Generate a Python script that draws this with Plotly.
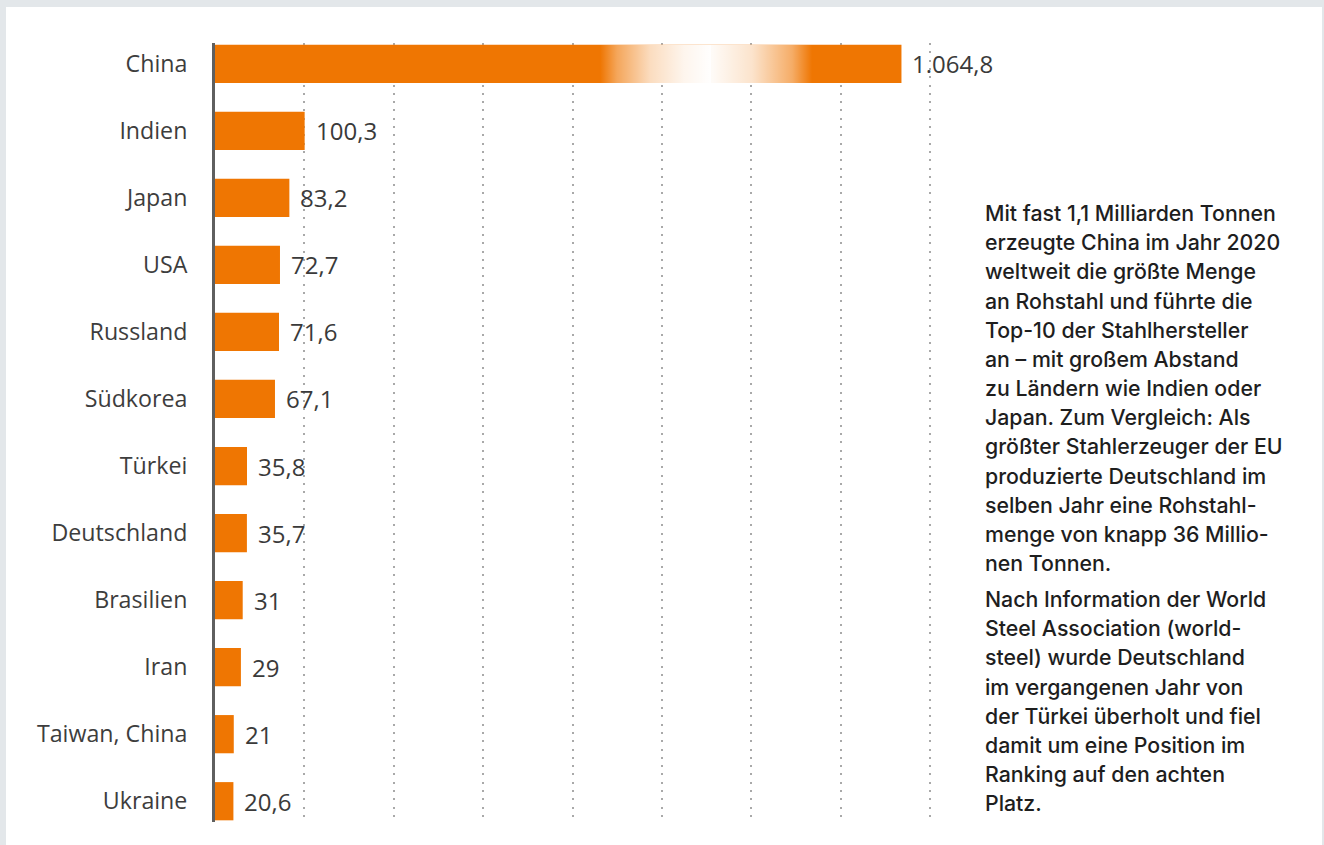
import plotly.graph_objects as go

# Rohstahlproduktion 2020 in Mio. Tonnen
countries = ['China', 'Indien', 'Japan', 'USA', 'Russland', 'Südkorea', 'Türkei',
             'Deutschland', 'Brasilien', 'Iran', 'Taiwan, China', 'Ukraine']
production = [1064.8, 100.3, 83.2, 72.7, 71.6, 67.1, 35.8, 35.7, 31, 29, 21, 20.6]

text_para1 = [
    'Mit fast 1,1 Milliarden Tonnen',
    'erzeugte China im Jahr 2020',
    'weltweit die größte Menge',
    'an Rohstahl und führte die',
    'Top-10 der Stahlhersteller',
    'an – mit großem Abstand',
    'zu Ländern wie Indien oder',
    'Japan. Zum Vergleich: Als',
    'größter Stahlerzeuger der EU',
    'produzierte Deutschland im',
    'selben Jahr eine Rohstahl-',
    'menge von knapp 36 Millio-',
    'nen Tonnen.',
]
text_para2 = [
    'Nach Information der World',
    'Steel Association (world-',
    'steel) wurde Deutschland',
    'im vergangenen Jahr von',
    'der Türkei überholt und fiel',
    'damit um eine Position im',
    'Ranking auf den achten',
    'Platz.',
]

ORANGE = '#ef7602'
W, H = 1324, 845
M_L, M_R, M_T, M_B = 215, 385, 43, 23
X_MAX = 810
BREAK_AT = 768          # drawn length of the broken China bar (axis units)
BAR_W = 0.57

plot_w = W - M_L - M_R
plot_h = H - M_T - M_B


def px_x(px):
    return (px - M_L) / plot_w


def px_y(py):
    return 1 - (py - M_T) / plot_h


def fmt_de(v):
    if float(v).is_integer():
        s = f'{int(v):,}'
    else:
        s = f'{v:,.1f}'
    return s.replace(',', '#').replace('.', ',').replace('#', '.')


idx = list(range(len(countries)))
shown = [min(v, BREAK_AT) for v in production]

fig = go.Figure()

fig.add_trace(go.Bar(
    x=shown, y=idx, orientation='h', width=BAR_W,
    marker=dict(color=ORANGE, line=dict(width=0)),
    hoverinfo='skip', showlegend=False,
))

# axis break on the China bar: fade to white and back
lo, mid, hi = 431, 554, 668
y0, y1 = -BAR_W / 2, BAR_W / 2
fig.add_trace(go.Scatter(
    x=[lo, mid + 2, mid + 2, lo, lo], y=[y0, y0, y1, y1, y0],
    mode='none', fill='toself', showlegend=False, hoverinfo='skip',
    fillgradient=dict(type='horizontal',
                      colorscale=[[0, 'rgba(255,255,255,0)'], [0.15, 'rgba(255,255,255,0.35)'],
                                  [0.45, 'rgba(255,255,255,0.75)'], [0.75, 'rgba(255,255,255,0.93)'],
                                  [1, 'rgba(255,255,255,1)']]),
))
fig.add_trace(go.Scatter(
    x=[mid + 2, hi, hi, mid + 2, mid + 2], y=[y0, y0, y1, y1, y0],
    mode='none', fill='toself', showlegend=False, hoverinfo='skip',
    fillgradient=dict(type='horizontal',
                      colorscale=[[0, 'rgba(255,255,255,0.97)'], [0.4, 'rgba(255,255,255,0.8)'],
                                  [0.8, 'rgba(255,255,255,0.4)'], [1, 'rgba(255,255,255,0)']]),
))

annotations = []
for i, (v, s) in enumerate(zip(production, shown)):
    annotations.append(dict(
        x=s, y=i, xref='x', yref='y', text=fmt_de(v), showarrow=False,
        xanchor='left', yanchor='middle', xshift=9,
        font=dict(family='Open Sans', size=24, color='#3a3a3a'),
    ))

side_font = dict(family='Inter', size=21.3, color='#1e1e1e', weight=500)
for j, line in enumerate(text_para1):
    annotations.append(dict(
        x=px_x(983), y=px_y(213 + 29.17 * j), xref='paper', yref='paper',
        text=line, showarrow=False, xanchor='left', yanchor='middle', font=side_font,
    ))
for j, line in enumerate(text_para2):
    annotations.append(dict(
        x=px_x(983), y=px_y(599 + 29.17 * j), xref='paper', yref='paper',
        text=line, showarrow=False, xanchor='left', yanchor='middle', font=side_font,
    ))

fig.update_layout(
    width=W, height=H,
    margin=dict(l=M_L, r=M_R, t=M_T, b=M_B),
    paper_bgcolor='#e3e7ea',
    plot_bgcolor='rgba(0,0,0,0)',
    annotations=annotations,
    shapes=[dict(type='rect', xref='paper', yref='paper', layer='below',
                 x0=px_x(6), x1=px_x(1322), y0=px_y(7), y1=px_y(H + 5),
                 fillcolor='white', line=dict(width=0))],
)

fig.update_xaxes(
    range=[0, X_MAX], dtick=100, showticklabels=False, zeroline=False,
    showgrid=True, gridcolor='#a9a9a9', gridwidth=2, griddash='2px,6.3px',
)
fig.update_yaxes(
    range=[11.31, -0.31], tickvals=idx, ticktext=countries,
    showgrid=False, zeroline=False,
    showline=True, linecolor='#5f5f5f', linewidth=3,
    ticks='outside', ticklen=20, tickcolor='rgba(0,0,0,0)',
    tickfont=dict(family='Open Sans', size=23.2, color='#3d3d3d'),
)

fig.write_html('out.html', config={'displayModeBar': False},
               post_script="document.body.style.margin='0';")
